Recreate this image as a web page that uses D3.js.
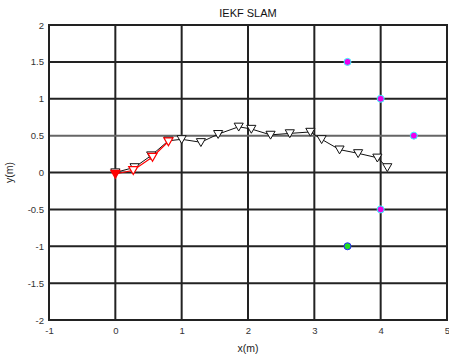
<!DOCTYPE html>
<html>
<head>
<meta charset="utf-8">
<script src="https://cdn.jsdelivr.net/npm/d3@7"></script>
<style>
  body { margin: 0; background: #fff; }
  text { font-family: "Liberation Sans", Arial, sans-serif; }
</style>
</head>
<body>
<div class="draw"></div>
<script>
// estimated path (black) and odometry-ish path (red)
const estX = [0, 0.29, 0.54, 0.80, 1.00, 1.29, 1.55, 1.86, 2.05, 2.34, 2.63, 2.94, 3.11, 3.38, 3.66, 3.95, 4.10];
const estY = [0, 0.07, 0.23, 0.43, 0.45, 0.41, 0.52, 0.62, 0.59, 0.51, 0.53, 0.55, 0.45, 0.31, 0.26, 0.20, 0.07];
const redX = [0, 0.27, 0.56, 0.80];
const redY = [-0.02, 0.03, 0.21, 0.42];
const lmX = [3.5, 4.0, 4.5, 4.0];
const lmY = [1.5, 1.0, 0.5, -0.5];
const goalX = [3.5];
const goalY = [-1.0];
const xTicks = [-1, 0, 1, 2, 3, 4, 5];
const yTicks = [-2, -1.5, -1, -0.5, 0, 0.5, 1, 1.5, 2];

const W = 449, H = 359;
const margin = { top: 25, right: 2, bottom: 39, left: 49 };
const gw = W - margin.left - margin.right;
const gh = H - margin.top - margin.bottom;

const svg = d3.select(".draw").append("svg")
    .attr("width", W)
    .attr("height", H);

const graph = svg.append("g")
    .attr("transform", `translate(${margin.left}, ${margin.top})`);

const x = d3.scaleLinear().domain([-1, 5]).range([0, gw]);
const y = d3.scaleLinear().domain([-2, 2]).range([gh, 0]);

// grid
graph.selectAll(".gx").data(xTicks).enter().append("line")
    .attr("x1", d => x(d)).attr("x2", d => x(d))
    .attr("y1", 0).attr("y2", gh)
    .attr("stroke", "#222").attr("stroke-width", 2);
graph.selectAll(".gy").data(yTicks).enter().append("line")
    .attr("y1", d => y(d)).attr("y2", d => y(d))
    .attr("x1", 0).attr("x2", gw)
    .attr("stroke", d => d === 0.5 ? "#666" : "#222")
    .attr("stroke-width", 2);

// axes (labels only)
const xAxis = d3.axisBottom(x).tickValues(xTicks).tickSize(0).tickPadding(7).tickFormat(d => String(d).replace("\u2212", "-"));
const yAxis = d3.axisLeft(y).tickValues(yTicks).tickSize(0).tickPadding(5).tickFormat(d => String(d).replace("\u2212", "-"));
const gxA = graph.append("g").attr("transform", `translate(0, ${gh})`).call(xAxis);
const gyA = graph.append("g").call(yAxis);
[gxA, gyA].forEach(g => {
  g.select(".domain").remove();
  g.selectAll("text").attr("fill", "#333").style("font-size", "9.5px")
    .style("font-family", "Liberation Sans, Arial, sans-serif");
});

graph.append("rect")
    .attr("width", gw).attr("height", gh)
    .attr("fill", "none").attr("stroke", "#222").attr("stroke-width", 2);

const tri = d3.symbol().type(d3.symbolTriangle).size(36);
const line = d3.line().x(d => x(d[0])).y(d => y(d[1]));

// black path
const est = estX.map((v, i) => [v, estY[i]]);
graph.append("path").datum(est)
    .attr("fill", "none").attr("stroke", "#111").attr("stroke-width", 1)
    .attr("d", line);
graph.selectAll(".est").data(est).enter().append("path")
    .attr("d", tri)
    .attr("transform", d => `translate(${x(d[0])}, ${y(d[1]) - 1}) rotate(180)`)
    .attr("fill", "#fff").attr("stroke", "#111").attr("stroke-width", 1);

// red path
const red = redX.map((v, i) => [v, redY[i]]);
graph.append("path").datum(red)
    .attr("fill", "none").attr("stroke", "#f00").attr("stroke-width", 1.2)
    .attr("d", line);
graph.selectAll(".red").data(red).enter().append("path")
    .attr("d", tri)
    .attr("transform", d => `translate(${x(d[0])}, ${y(d[1]) - 1}) rotate(180)`)
    .attr("fill", (d, i) => i === 0 ? "#f00" : "#fff")
    .attr("stroke", "#f00").attr("stroke-width", 1.2);

// landmarks
const lm = lmX.map((v, i) => [v, lmY[i]]);
graph.selectAll(".lm").data(lm).enter().append("circle")
    .attr("cx", d => x(d[0])).attr("cy", d => y(d[1])).attr("r", 3.5)
    .attr("fill", "#e0e").attr("stroke", "#3ff").attr("stroke-width", 1);
const goal = goalX.map((v, i) => [v, goalY[i]]);
graph.selectAll(".goal").data(goal).enter().append("circle")
    .attr("cx", d => x(d[0])).attr("cy", d => y(d[1])).attr("r", 3.5)
    .attr("fill", "#2d2").attr("stroke", "#22f").attr("stroke-width", 1);

// titles
svg.append("text")
    .attr("x", margin.left + gw / 2).attr("y", 17)
    .attr("text-anchor", "middle").style("font-size", "11px").attr("fill", "#111")
    .text("IEKF SLAM");
svg.append("text")
    .attr("x", margin.left + gw / 2).attr("y", 352)
    .attr("text-anchor", "middle").style("font-size", "10.5px").attr("fill", "#222")
    .text("x(m)");
svg.append("text")
    .attr("transform", `translate(13, ${margin.top + gh / 2}) rotate(-90)`)
    .attr("text-anchor", "middle").style("font-size", "10.5px").attr("fill", "#222")
    .text("y(m)");
</script>
</body>
</html>
